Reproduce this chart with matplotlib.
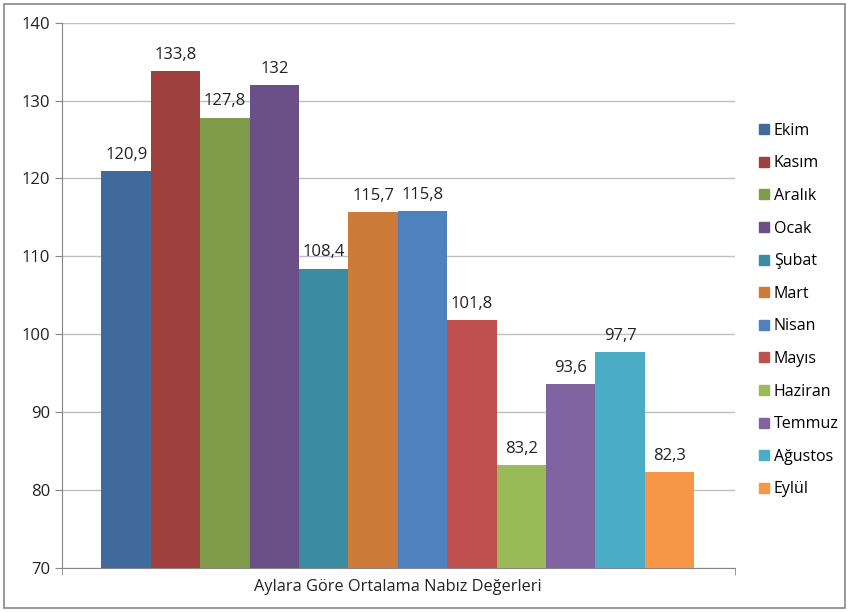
import matplotlib
matplotlib.use("Agg")
import matplotlib.pyplot as plt
from matplotlib.lines import Line2D
from matplotlib.patches import Rectangle

months = ["Ekim", "Kasım", "Aralık", "Ocak", "Şubat", "Mart",
          "Nisan", "Mayıs", "Haziran", "Temmuz", "Ağustos", "Eylül"]
values = [120.9, 133.8, 127.8, 132, 108.4, 115.7,
          115.8, 101.8, 83.2, 93.6, 97.7, 82.3]
category = "Aylara Göre Ortalama Nabız Değerleri"
colors = ["#406a9b", "#9e413e", "#7f9a48", "#6a5087", "#3b8ba3", "#cd7b38",
          "#4f81bd", "#c0504d", "#9bbb59", "#8064a2", "#4bacc6", "#f79646"]
yticks = [70, 80, 90, 100, 110, 120, 130, 140]

plt.rcParams["font.family"] = ["Open Sans", "DejaVu Sans"]

fig = plt.figure(figsize=(8.49, 6.12), dpi=100)
ax = fig.add_axes([0.073, 0.072, 0.793, 0.891])

for i, (m, v, c) in enumerate(zip(months, values, colors)):
    ax.bar(i, v - 70, bottom=70, width=1.0, color=c, label=m, zorder=3)
    label = f"{v:g}".replace(".", ",")
    ax.annotate(label, (i, v), xytext=(0, 6), textcoords="offset points",
                ha="center", va="bottom", fontsize=12, color="#222222")

ax.set_ylim(70, 140)
ax.set_xlim(-1.3, 12.33)
ax.set_yticks(yticks)
ax.yaxis.grid(True, color="#c0c0c0", linewidth=1, zorder=0)
ax.tick_params(axis="y", length=5, color="#868686", labelsize=12, labelcolor="#222222")

ax.set_xticks([(len(months) - 1) / 2])
ax.set_xticklabels([category], fontsize=11.8, color="#222222")
ax.tick_params(axis="x", length=0, pad=8)
ax.set_xticks([-1.3, 12.33], minor=True)
ax.tick_params(axis="x", which="minor", length=5, color="#868686")

for side in ["top", "right"]:
    ax.spines[side].set_visible(False)
for side in ["left", "bottom"]:
    ax.spines[side].set_color("#868686")

handles = [Line2D([], [], marker="s", linestyle="none", markersize=7.5,
                  markerfacecolor=c, markeredgecolor=c) for c in colors]
fig.legend(handles, months, loc="upper left", bbox_to_anchor=(0.885, 0.81),
           frameon=False, fontsize=11.5, labelspacing=1.04, handletextpad=0.2,
           handlelength=0.8, borderaxespad=0)

fig.patches.append(Rectangle((0.005, 0.006), 0.99, 0.988, transform=fig.transFigure,
                             fill=False, edgecolor="#868686", linewidth=1.2))

fig.savefig("out.png", dpi=100)
